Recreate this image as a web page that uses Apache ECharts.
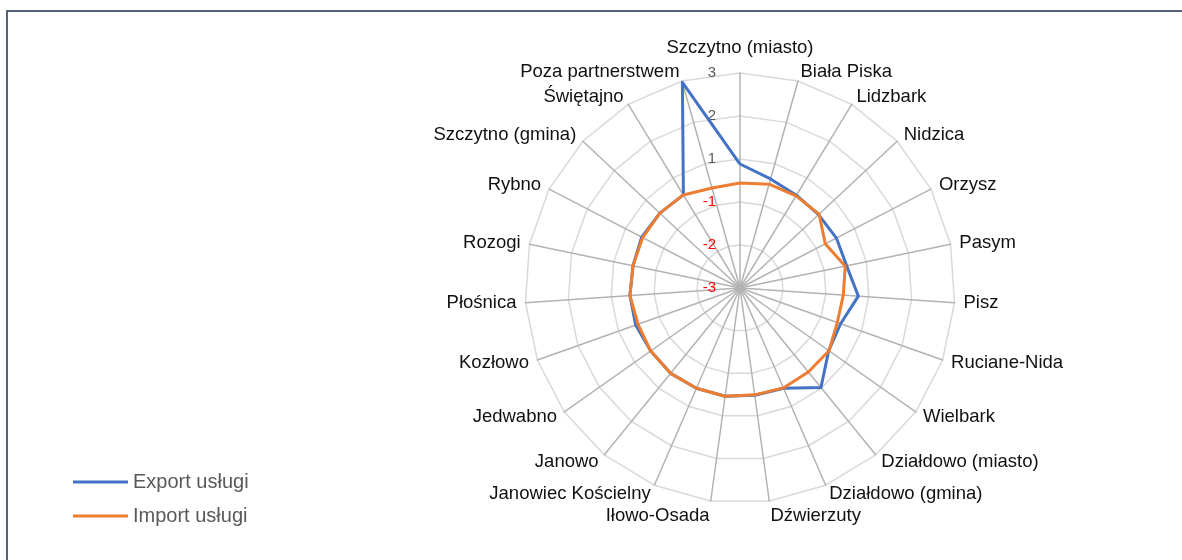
<!DOCTYPE html>
<html>
<head>
<meta charset="utf-8">
<script src="https://cdn.jsdelivr.net/npm/echarts@6/dist/echarts.min.js"></script>
<style>
  html, body { margin: 0; padding: 0; background: #fff; overflow: hidden; }
  #chart { position: absolute; left: 0; top: 0; width: 1182px; height: 560px; }
  #frame { position: absolute; left: 6px; top: 10px; width: 1400px; height: 800px;
           border-left: 2px solid #56617a; border-top: 2px solid #56617a; pointer-events: none; }
</style>
</head>
<body>
<div id="chart"></div>
<div id="frame"></div>
<script>
const categories = [
  'Szczytno (miasto)', 'Biała Piska', 'Lidzbark', 'Nidzica', 'Orzysz', 'Pasym', 'Pisz',
  'Ruciane-Nida', 'Wielbark', 'Działdowo (miasto)', 'Działdowo (gmina)', 'Dźwierzuty',
  'Iłowo-Osada', 'Janowiec Kościelny', 'Janowo', 'Jedwabno', 'Kozłowo', 'Płośnica',
  'Rozogi', 'Rybno', 'Szczytno (gmina)', 'Świętajno', 'Poza partnerstwem'
];
const exportUslugi = [0.46, 0.16, 0.03, 0.00, 0.03, 0.04, 0.31, -0.02, 0.03, 0.58, 0.05, 0.02,
  0.05, 0.05, 0.07, 0.05, 0.09, 0.08, 0.05, 0.09, 0.06, 0.04, 2.96];
const importUslugi = [-0.07, 0.01, 0.01, 0.02, -0.32, 0.00, -0.11, -0.12, 0.04, 0.02, 0.04, 0.01,
  0.05, 0.05, 0.07, 0.05, 0.02, 0.08, 0.05, 0.06, 0.06, 0.04, -0.10];
const seriesNames = ['Export usługi', 'Import usługi'];
const axisMin = -3, axisMax = 3, axisSplits = 5;

const FONT = '"Liberation Sans", Arial, sans-serif';
const NAME_SIZE = 18.5;
const TICK_SIZE = 15;

// ECharts places radar indicators counter-clockwise; reorder so they run clockwise.
const order = [0];
for (let i = categories.length - 1; i >= 1; i--) order.push(i);
const pick = arr => order.map(i => arr[i]);

const tickLabelStyle = {
  margin: 24,
  fontFamily: FONT,
  fontSize: TICK_SIZE,
  formatter: function (v) { return String(Math.round(v)); },
  color: function (v) { return Math.round(Number(v)) < 0 ? '#ff0000' : '#595959'; }
};

const chart = echarts.init(document.getElementById('chart'), null, { renderer: 'canvas' });
chart.setOption({
  animation: false,
  backgroundColor: '#ffffff',
  textStyle: { fontFamily: FONT },
  legend: {
    data: seriesNames,
    orient: 'vertical',
    left: 68,
    top: 467,
    itemWidth: 55,
    itemHeight: 3,
    itemGap: 14,
    icon: 'rect',
    textStyle: { fontFamily: FONT, fontSize: 20, color: '#595959' }
  },
  radar: {
    center: [740, 288],
    radius: 215,
    startAngle: 90,
    shape: 'polygon',
    splitNumber: axisSplits,
    nameGap: 9,
    axisName: {
      color: '#111111', fontFamily: FONT, fontSize: NAME_SIZE,
      formatter: function (name) {
        const idx = categories.indexOf(name);
        if (idx === 0) return '{top|' + name + '}';
        if (idx === 11 || idx === 12) return '{bot|' + name + '}';
        return name;
      },
      rich: {
        top: { fontFamily: FONT, fontSize: NAME_SIZE, color: '#111111', padding: [0, 0, 7, 0] },
        bot: { fontFamily: FONT, fontSize: NAME_SIZE, color: '#111111', padding: [12, 0, 0, 0] }
      }
    },
    axisLine: { show: true, lineStyle: { color: '#b3b3b3', width: 1.5 } },
    splitLine: { show: true, lineStyle: { color: '#d9d9d9', width: 1.5 } },
    splitArea: { show: false },
    axisTick: { show: false },
    axisLabel: Object.assign({ show: false }, tickLabelStyle),
    indicator: order.map((i, k) => ({
      name: categories[i],
      min: axisMin,
      max: axisMax,
      axisLabel: k === 0 ? Object.assign({ show: true }, tickLabelStyle) : { show: false }
    }))
  },
  series: [{
    type: 'radar',
    symbol: 'none',
    data: [
      { name: seriesNames[0], value: pick(exportUslugi),
        lineStyle: { color: '#4472C4', width: 3 }, itemStyle: { color: '#4472C4' } },
      { name: seriesNames[1], value: pick(importUslugi),
        lineStyle: { color: '#ED7D31', width: 3 }, itemStyle: { color: '#ED7D31' } }
    ]
  }]
});
</script>
</body>
</html>
